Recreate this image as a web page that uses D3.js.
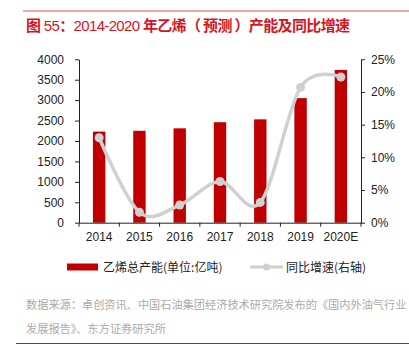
<!DOCTYPE html>
<html>
<head>
<meta charset="utf-8">
<script src="https://cdn.jsdelivr.net/npm/d3@7"></script>
<style>
  body { margin: 0; background: #fff; }
  svg { display: block; font-family: "Liberation Sans", Arial, "Noto Sans CJK SC", sans-serif; }
</style>
</head>
<body>
<div id="chart"></div>
<script>
// data
const years = ['2014', '2015', '2016', '2017', '2018', '2019', '2020E'];
const capacity = [2230, 2250, 2310, 2460, 2530, 3050, 3740];
const growth = [13.0, 1.6, 2.7, 6.3, 3.1, 20.7, 22.3];
const leftTicks = [0, 500, 1000, 1500, 2000, 2500, 3000, 3500, 4000];
const rightTicks = [0, 5, 10, 15, 20, 25];

const width = 409, height = 352;
const cjk = '"Noto Sans CJK SC", "Liberation Sans", sans-serif';

const svg = d3.select('#chart').append('svg')
    .attr('width', width)
    .attr('height', height);

// top rule + title
svg.append('line')
    .attr('x1', 23).attr('x2', width).attr('y1', 11).attr('y2', 11)
    .attr('stroke', '#ec8a8a').attr('stroke-width', 1.5);
const title = svg.append('text')
    .attr('x', 26).attr('y', 31)
    .attr('fill', '#d7141e')
    .attr('textLength', 324)
    .attr('lengthAdjust', 'spacing')
    .style('font-size', '15px');
[['图', true], [' 55', false], ['：', true], ['2014-2020 ', false], ['年乙烯（ 预测 ）产能及同比增速', true]]
    .forEach(([t, c]) => title.append('tspan')
        .style('font-family', c ? cjk : '"Liberation Sans", Arial, sans-serif')
        .style('font-weight', c ? 'bold' : 'normal')
        .text(t));

// scales
const x = d3.scaleBand().domain(years).range([79, 361]);
const yL = d3.scaleLinear().domain([0, 4000]).range([222.7, 59.3]);
const yR = d3.scaleLinear().domain([0, 25]).range([222.7, 59.3]);

// bars
svg.append('g').selectAll('rect')
    .data(capacity)
    .join('rect')
    .attr('x', (d, i) => x(years[i]) + x.bandwidth() / 2 - 6.2)
    .attr('width', 12.4)
    .attr('y', d => yL(d))
    .attr('height', d => yL(0) - yL(d))
    .attr('fill', '#c00000');

// axes
const axisFont = g => g.selectAll('text')
    .style('font-size', '12px')
    .style('font-family', '"Liberation Sans", Arial, sans-serif')
    .attr('fill', '#222');

const left = svg.append('g')
    .attr('transform', 'translate(79,0)')
    .call(d3.axisLeft(yL).tickValues(leftTicks).tickSize(4).tickPadding(11).tickSizeOuter(0)
        .tickFormat(d3.format('d')));
left.call(axisFont);

const right = svg.append('g')
    .attr('transform', 'translate(361,0)')
    .call(d3.axisRight(yR).tickValues(rightTicks).tickSize(4).tickPadding(6).tickSizeOuter(0)
        .tickFormat(d => d + '%'));
right.call(axisFont);

const bottom = svg.append('g')
    .attr('transform', 'translate(0,222.7)')
    .call(d3.axisBottom(x).tickSize(0).tickPadding(10));
bottom.call(axisFont);
// ticks sit at band edges
bottom.selectAll('.edge')
    .data(years.map(y => x(y)).concat([x.range()[1]]))
    .join('line')
    .attr('class', 'edge')
    .attr('x1', d => d).attr('x2', d => d)
    .attr('y1', 0).attr('y2', 4)
    .attr('stroke', '#222');

svg.selectAll('.domain, .tick line').attr('stroke', '#222');

// smoothed growth line
const line = d3.line()
    .x((d, i) => x(years[i]) + x.bandwidth() / 2)
    .y(d => yR(d))
    .curve(d3.curveCardinal);
svg.append('path')
    .datum(growth)
    .attr('d', line)
    .attr('fill', 'none')
    .attr('stroke', '#d0d0d0')
    .attr('stroke-width', 3.5);
svg.append('g').selectAll('circle')
    .data(growth)
    .join('circle')
    .attr('cx', (d, i) => x(years[i]) + x.bandwidth() / 2)
    .attr('cy', d => yR(d))
    .attr('r', 4.5)
    .attr('fill', '#d0d0d0');

// legend
const legend = svg.append('g').style('font-family', cjk).style('font-size', '12px');
legend.append('rect')
    .attr('x', 67).attr('y', 263.5).attr('width', 31).attr('height', 7)
    .attr('fill', '#c00000');
legend.append('text')
    .attr('x', 103).attr('y', 271.5).attr('fill', '#222')
    .text('乙烯总产能(单位:亿吨)');
legend.append('line')
    .attr('x1', 250).attr('x2', 283).attr('y1', 267).attr('y2', 267)
    .attr('stroke', '#d0d0d0').attr('stroke-width', 3);
legend.append('circle')
    .attr('cx', 266.5).attr('cy', 267).attr('r', 3.5).attr('fill', '#d0d0d0');
legend.append('text')
    .attr('x', 286).attr('y', 271.5).attr('fill', '#222')
    .text('同比增速(右轴)');

// source note
const note = svg.append('g').style('font-family', cjk).style('font-size', '11.2px').attr('fill', '#aaa');
note.append('text').attr('x', 26).attr('y', 309)
    .text('数据来源：卓创资讯、中国石油集团经济技术研究院发布的《国内外油气行业');
note.append('text').attr('x', 26).attr('y', 333)
    .text('发展报告》、东方证券研究所');

svg.append('line')
    .attr('x1', 16).attr('x2', width).attr('y1', 343.5).attr('y2', 343.5)
    .attr('stroke', '#c8102e').attr('stroke-width', 1);
</script>
</body>
</html>
